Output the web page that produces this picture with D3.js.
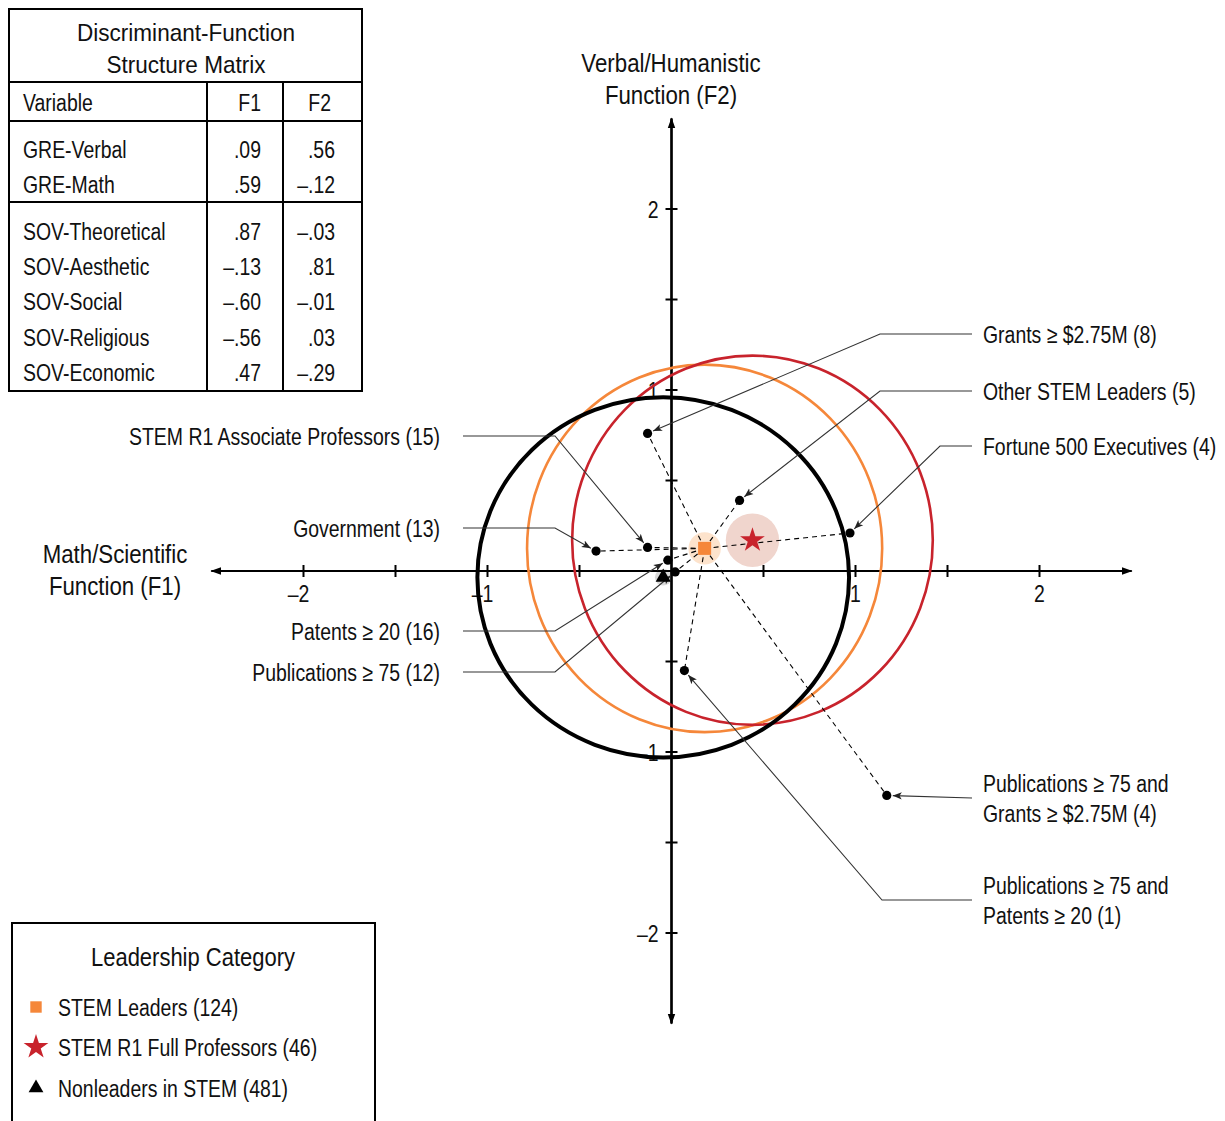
<!DOCTYPE html>
<html>
<head>
<meta charset="utf-8">
<script src="https://cdn.jsdelivr.net/npm/d3@7/dist/d3.min.js"></script>
<style>
  body { margin: 0; background: #fff; }
  svg text { font-family: "Liberation Sans", Arial, sans-serif; fill: #111; }
</style>
</head>
<body>
<svg id="chart" width="1225" height="1121"></svg>
<script>
// group centroids (F1, F2), halo radius, and the ring round each centroid
var groupNames = ["STEM Leaders (124)", "STEM R1 Full Professors (46)", "Nonleaders in STEM (481)"];
var groupF1 = [0.18, 0.44, -0.045];
var groupF2 = [0.125, 0.17, -0.035];
var groupHalo = [0.088, 0.145, 0.045];
var ringRx = [0.965, 0.98, 1.01];
var ringRy = [1.015, 1.02, 0.995];

// STEM leader subgroups
var subNames = [
  ["Grants \u2265 $2.75M (8)"],
  ["Other STEM Leaders (5)"],
  ["Fortune 500 Executives (4)"],
  ["STEM R1 Associate Professors (15)"],
  ["Government (13)"],
  ["Patents \u2265 20 (16)"],
  ["Publications \u2265 75 (12)"],
  ["Publications \u2265 75 and", "Grants \u2265 $2.75M (4)"],
  ["Publications \u2265 75 and", "Patents \u2265 20 (1)"]
];
var subF1 = [-0.13, 0.37, 0.97, -0.13, -0.41, -0.02, 0.02, 1.17, 0.07];
var subF2 = [0.76, 0.39, 0.21, 0.13, 0.11, 0.06, -0.005, -1.24, -0.55];

// structure matrix
var matVars = ["GRE-Verbal", "GRE-Math", "SOV-Theoretical", "SOV-Aesthetic", "SOV-Social", "SOV-Religious", "SOV-Economic"];
var matF1 = [".09", ".59", ".87", "\u2013.13", "\u2013.60", "\u2013.56", ".47"];
var matF2 = [".56", "\u2013.12", "\u2013.03", ".81", "\u2013.01", ".03", "\u2013.29"];

var tickVals = [-2, -1.5, -1, -0.5, 0.5, 1, 1.5, 2];
var tickLabels = {"-2": "\u20132", "-1": "\u20131", "1": "1", "2": "2"};

// label layout: side, y of leader line, x of elbow
var annSide = ["R", "R", "R", "L", "L", "L", "L", "R", "R"];
var annY = [334, 391, 446, 436, 528, 631, 672, 798, 900];
var annElbow = [880, 880, 940, 555, 555, 555, 555, 972, 882];

var groupColor = ["#f5873a", "#c8232c", "#000"];
var haloColor = ["#fde3cc", "#f0d5cd", "#d9d9d9"];
var ringWidth = [2.6, 2.6, 4];

var svg = d3.select("#chart");
var x = d3.scaleLinear().domain([-2.5, 2.5]).range([211.5, 1131.5]);
var y = d3.scaleLinear().domain([-2.5, 2.5]).range([1023.5, 118.5]);

// condensed look: the narrow face is not installed, so squeeze the text
function txt(g, px, py, s, size, anchor, sx) {
    return g.append("text")
        .attr("transform", "translate(" + px + "," + py + ") scale(" + (sx || 0.81) + ",1)")
        .attr("text-anchor", anchor || "start")
        .attr("font-size", size || 24)
        .text(s);
}

var defs = svg.append("defs");
defs.append("marker").attr("id", "axhead").attr("viewBox", "0 0 10 10")
    .attr("refX", 9).attr("refY", 5).attr("markerWidth", 5).attr("markerHeight", 5)
    .attr("orient", "auto").attr("markerUnits", "strokeWidth")
  .append("path").attr("d", "M0,1.5L10,5L0,8.5z").attr("fill", "#000");
defs.append("marker").attr("id", "arrow").attr("viewBox", "0 0 10 10")
    .attr("refX", 10).attr("refY", 5).attr("markerWidth", 9).attr("markerHeight", 9)
    .attr("orient", "auto").attr("markerUnits", "userSpaceOnUse")
  .append("path").attr("d", "M0,1L10,5L0,9L2.5,5z").attr("fill", "#222");

var gi = d3.range(groupNames.length);

// halos
svg.append("g").selectAll("circle").data(gi).enter().append("circle")
    .attr("cx", function (i) { return x(groupF1[i]); })
    .attr("cy", function (i) { return y(groupF2[i]); })
    .attr("r", function (i) { return x(groupHalo[i]) - x(0); })
    .attr("fill", function (i) { return haloColor[i]; });

// axes
var ax = svg.append("g");
ax.append("line").attr("x1", x(0)).attr("x2", x(0)).attr("y1", y(-2.5)).attr("y2", y(2.5))
    .attr("stroke", "#000").attr("stroke-width", 2.2).attr("marker-end", "url(#axhead)");
ax.append("line").attr("x1", x(0)).attr("x2", x(0)).attr("y1", y(2.5)).attr("y2", y(-2.5))
    .attr("stroke", "#000").attr("stroke-width", 2.2).attr("marker-end", "url(#axhead)");
ax.append("line").attr("y1", y(0)).attr("y2", y(0)).attr("x1", x(-2.5)).attr("x2", x(2.5))
    .attr("stroke", "#000").attr("stroke-width", 2.2).attr("marker-end", "url(#axhead)");
ax.append("line").attr("y1", y(0)).attr("y2", y(0)).attr("x1", x(2.5)).attr("x2", x(-2.5))
    .attr("stroke", "#000").attr("stroke-width", 2.2).attr("marker-end", "url(#axhead)");

ax.selectAll(".xt").data(tickVals).enter().append("line")
    .attr("x1", function (d) { return x(d); }).attr("x2", function (d) { return x(d); })
    .attr("y1", y(0) - 6).attr("y2", y(0) + 6).attr("stroke", "#000").attr("stroke-width", 2);
ax.selectAll(".yt").data(tickVals).enter().append("line")
    .attr("y1", function (d) { return y(d); }).attr("y2", function (d) { return y(d); })
    .attr("x1", x(0) - 6).attr("x2", x(0) + 6).attr("stroke", "#000").attr("stroke-width", 2);

tickVals.filter(function (d) { return tickLabels[d]; }).forEach(function (d) {
    txt(ax, x(d) + (d < 0 ? -5 : 0), y(0) + 31, tickLabels[d], 24, "middle");
    txt(ax, x(0) - 13, y(d) + 9, tickLabels[d], 24, "end");
});

txt(ax, 115, 563, "Math/Scientific", 25, "middle", 0.89);
txt(ax, 115, 595, "Function (F1)", 25, "middle", 0.89);
txt(ax, 671, 72, "Verbal/Humanistic", 25, "middle", 0.89);
txt(ax, 671, 104, "Function (F2)", 25, "middle", 0.89);

// rings round each centroid
svg.append("g").selectAll("ellipse").data(gi).enter().append("ellipse")
    .attr("cx", function (i) { return x(groupF1[i]); })
    .attr("cy", function (i) { return y(groupF2[i]); })
    .attr("rx", function (i) { return x(ringRx[i]) - x(0); })
    .attr("ry", function (i) { return y(0) - y(ringRy[i]); })
    .attr("fill", "none")
    .attr("stroke", function (i) { return groupColor[i]; })
    .attr("stroke-width", function (i) { return ringWidth[i]; });

var si = d3.range(subNames.length);

// dashed lines from the STEM leaders centroid
svg.append("g").selectAll("line").data(si).enter().append("line")
    .attr("x1", x(groupF1[0])).attr("y1", y(groupF2[0]))
    .attr("x2", function (i) { return x(subF1[i]); })
    .attr("y2", function (i) { return y(subF2[i]); })
    .attr("stroke", "#000").attr("stroke-width", 1.1).attr("stroke-dasharray", "5,4");

// leader lines and labels
var lead = svg.append("g");
si.forEach(function (i) {
    var px = x(subF1[i]), py = y(subF2[i]);
    var x0 = annSide[i] == "R" ? 972 : 463;
    var ex = annElbow[i], ey = annY[i];
    var dx = px - ex, dy = py - ey, len = Math.sqrt(dx * dx + dy * dy);
    var tx = px - dx / len * 6, ty = py - dy / len * 6;
    lead.append("path")
        .attr("d", "M" + x0 + "," + ey + "L" + ex + "," + ey + "L" + tx + "," + ty)
        .attr("fill", "none").attr("stroke", "#333").attr("stroke-width", 1.1)
        .attr("marker-end", "url(#arrow)");
    var lines = subNames[i];
    lines.forEach(function (s, k) {
        txt(lead, annSide[i] == "R" ? 983 : 440, ey + 8.5 + (k - (lines.length - 1) / 2) * 30,
            s, 24, annSide[i] == "R" ? "start" : "end");
    });
});

// subgroup dots
svg.append("g").selectAll("circle").data(si).enter().append("circle")
    .attr("cx", function (i) { return x(subF1[i]); })
    .attr("cy", function (i) { return y(subF2[i]); })
    .attr("r", 4.6).attr("fill", "#000");

// centroid markers
var shapes = [d3.symbolSquare, d3.symbolStar, d3.symbolTriangle];
var shapeSize = [170, 190, 100];
svg.append("g").selectAll("path").data(gi).enter().append("path")
    .attr("transform", function (i) { return "translate(" + x(groupF1[i]) + "," + y(groupF2[i]) + ")"; })
    .attr("d", function (i) { return d3.symbol().type(shapes[i]).size(shapeSize[i])(); })
    .attr("fill", function (i) { return groupColor[i]; });

// structure matrix table
var tb = svg.append("g");
tb.append("rect").attr("x", 9).attr("y", 9).attr("width", 353).attr("height", 382)
    .attr("fill", "none").attr("stroke", "#000").attr("stroke-width", 2);
[82, 121, 202].forEach(function (yy) {
    tb.append("line").attr("x1", 9).attr("x2", 362).attr("y1", yy).attr("y2", yy)
        .attr("stroke", "#000").attr("stroke-width", 2);
});
[207, 283].forEach(function (xx) {
    tb.append("line").attr("x1", xx).attr("x2", xx).attr("y1", 82).attr("y2", 391)
        .attr("stroke", "#000").attr("stroke-width", 2);
});
txt(tb, 186, 41, "Discriminant-Function", 24, "middle", 0.94);
txt(tb, 186, 73, "Structure Matrix", 24, "middle", 0.94);
txt(tb, 23, 111, "Variable");
txt(tb, 261, 111, "F1", 24, "end");
txt(tb, 331, 111, "F2", 24, "end");
var rowY = [149, 184, 231, 266, 301, 337, 372];
matVars.forEach(function (v, i) {
    txt(tb, 23, rowY[i] + 9, v);
    txt(tb, 261, rowY[i] + 9, matF1[i], 24, "end");
    txt(tb, 335, rowY[i] + 9, matF2[i], 24, "end");
});

// legend
var lg = svg.append("g");
lg.append("rect").attr("x", 12).attr("y", 923).attr("width", 363).attr("height", 240)
    .attr("fill", "none").attr("stroke", "#000").attr("stroke-width", 2);
txt(lg, 193, 966, "Leadership Category", 25, "middle", 0.88);
var legY = [1007, 1047, 1088];
var legSize = [130, 190, 95];
gi.forEach(function (i) {
    lg.append("path").attr("transform", "translate(36," + legY[i] + ")")
        .attr("d", d3.symbol().type(shapes[i]).size(legSize[i])())
        .attr("fill", groupColor[i]);
    txt(lg, 58, legY[i] + 9, groupNames[i]);
});
</script>
</body>
</html>
